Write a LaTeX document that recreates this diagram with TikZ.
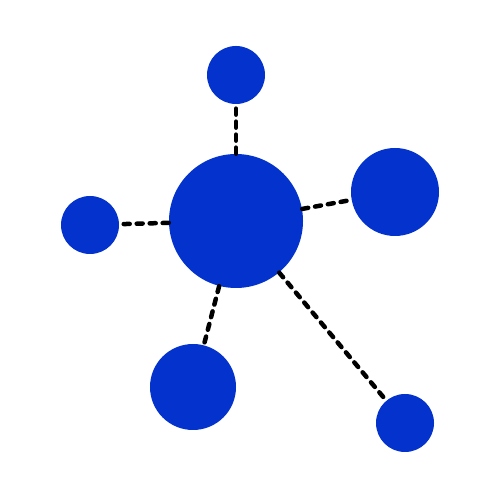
\documentclass[tikz,border=0pt]{standalone}
\usepackage{tikz}
\definecolor{atomblue}{HTML}{0333CC}
\tikzset{
	atom/.style={circle, fill=atomblue, inner sep=0pt},
	bond/.style={line width=0.09cm, line cap=round, dash pattern=on 0.12cm off 0.14cm}
}

\begin{document}
\begin{tikzpicture}[scale=1]
		% Frame of the picture
		\useasboundingbox (0,0) rectangle (10,10);
		% Draw the atoms
		\node[atom, minimum size=2.68cm] (core) at (4.72,5.58) {};
		\node[atom, minimum size=1.16cm] (top) at (4.72,8.50) {};
		\node[atom, minimum size=1.76cm] (east) at (7.90,6.16) {};
		\node[atom, minimum size=1.16cm] (west) at (1.80,5.50) {};
		\node[atom, minimum size=1.72cm] (south) at (3.86,2.26) {};
		\node[atom, minimum size=1.16cm] (far) at (8.10,1.54) {};
		
		% Draw the bonds
		\foreach \n in {top, east, west, south, far}
			\draw[bond] (core) -- (\n);
	\end{tikzpicture}
\end{document}
